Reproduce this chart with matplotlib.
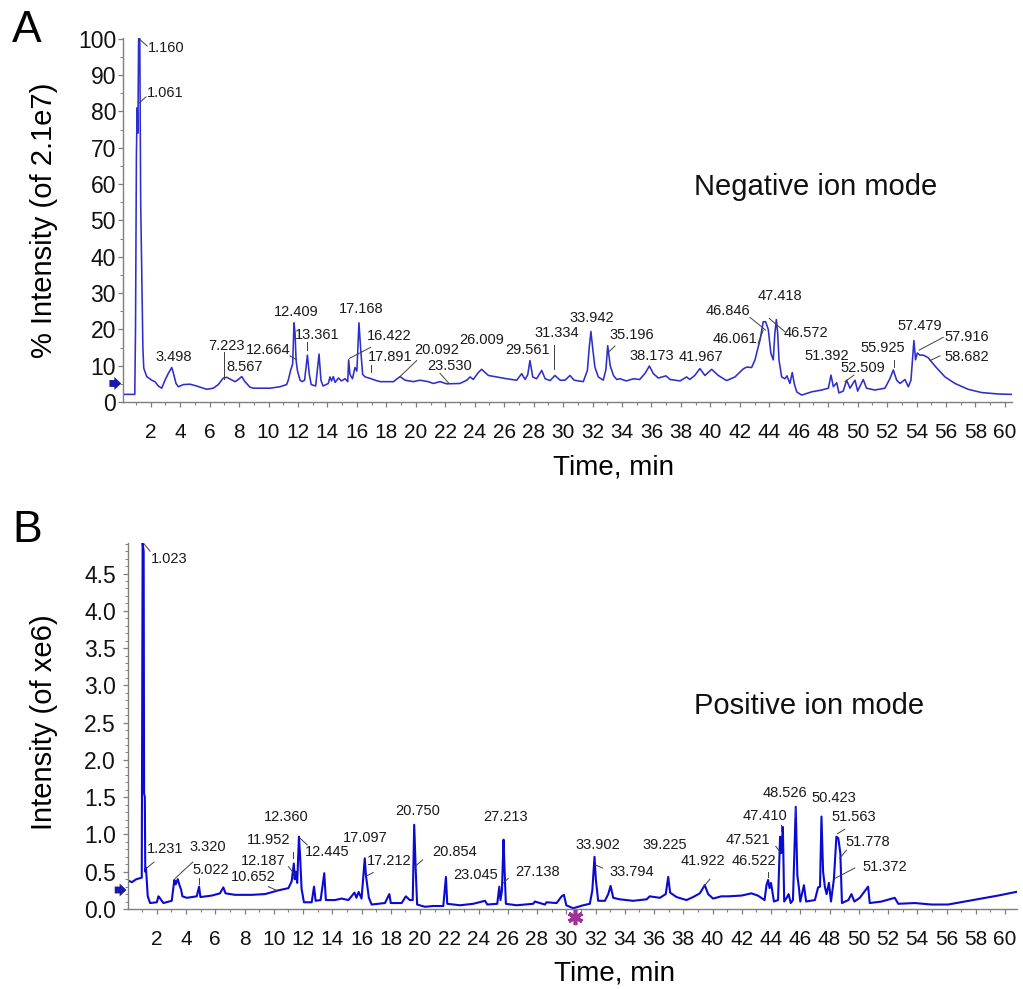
import matplotlib
matplotlib.use("Agg")
import matplotlib.pyplot as plt
from matplotlib.ticker import MultipleLocator, FixedLocator
from matplotlib.transforms import blended_transform_factory

plt.rcParams['font.family'] = ['Liberation Sans', 'DejaVu Sans']

# ---------------- data: negative ion mode (A) ----------------
neg_time = [0.12, 0.5, 0.92, 0.97, 1.03, 1.08, 1.13, 1.18, 1.26, 1.32, 1.40, 1.47, 1.53, 1.73,
            2.07, 2.29, 2.52, 2.75, 2.97, 3.20, 3.43, 3.54, 3.72, 3.88, 4.22, 4.67, 5.12, 5.80,
            6.25, 6.59, 6.93, 7.16, 7.50, 7.73, 7.95, 8.18, 8.40, 8.74, 8.97, 10.1, 10.78, 11.23,
            11.34, 11.50, 11.64, 11.73, 11.80, 11.87, 11.96, 12.14, 12.28, 12.45, 12.64, 12.77,
            12.90, 13.20, 13.43, 13.56, 13.70, 14.06, 14.17, 14.28, 14.40, 14.52, 14.75, 14.95,
            15.20, 15.38, 15.44, 15.53, 15.70, 15.87, 16.00, 16.14, 16.25, 16.39, 16.56, 16.90,
            17.24, 17.58, 18.48, 18.93, 19.27, 19.83, 20.28, 20.85, 21.19, 21.65, 22.10, 23.00,
            23.46, 23.69, 23.90, 24.24, 24.47, 24.93, 25.49, 26.17, 26.85, 27.19, 27.42, 27.60,
            27.75, 27.94, 28.20, 28.55, 28.78, 29.12, 29.45, 29.80, 30.13, 30.47, 30.75, 31.37,
            31.65, 31.78, 31.89, 32.00, 32.16, 32.39, 32.73, 32.91, 33.03, 33.20, 33.42, 33.64,
            33.86, 34.30, 34.77, 35.20, 35.55, 35.86, 36.13, 36.47, 36.99, 37.26, 37.94, 38.39,
            38.60, 38.94, 39.29, 39.63, 40.09, 40.54, 41.10, 41.67, 42.23, 42.46, 42.80, 43.03,
            43.25, 43.37, 43.59, 43.75, 43.93, 44.11, 44.27, 44.38, 44.48, 44.57, 44.66, 44.84,
            45.07, 45.20, 45.40, 45.56, 45.70, 45.86, 46.20, 46.88, 47.56, 48.01, 48.19, 48.35,
            48.58, 48.73, 49.02, 49.25, 49.48, 49.82, 50.00, 50.38, 50.60, 51.17, 51.85, 52.19,
            52.42, 52.65, 52.88, 53.21, 53.44, 53.62, 53.82, 53.93, 54.05, 54.23, 54.46, 54.79,
            55.25, 55.93, 56.61, 57.50, 58.42, 59.55, 60.45]
neg_intensity = [2.1, 2.1, 2.1, 20, 68, 81, 74, 100, 100, 55, 33, 15, 9.3, 7.0,
                 6.0, 5.6, 4.4, 3.8, 6.0, 7.9, 9.5, 8.0, 5.1, 4.2, 4.8, 4.9, 4.4, 3.5,
                 3.8, 4.8, 6.6, 6.8, 6.1, 5.6, 6.2, 7.0, 5.6, 4.1, 3.8, 3.8, 4.2, 4.8,
                 6.0, 8.7, 10.5, 21.8, 19.0, 11.6, 8.7, 6.0, 5.6, 6.0, 12.9, 7.6,
                 4.8, 4.4, 13.2, 6.0, 4.4, 5.1, 6.9, 5.8, 7.0, 5.4, 6.6, 5.8,
                 6.4, 5.6, 11.6, 7.6, 6.4, 9.5, 8.5, 21.8, 15.0, 7.6, 6.9, 6.5,
                 6.0, 5.6, 5.6, 7.0, 6.0, 5.6, 6.0, 5.6, 5.1, 5.6, 5.0, 5.1,
                 6.0, 6.9, 6.2, 8.1, 9.0, 7.3, 6.9, 6.4, 6.0, 7.8, 6.2, 7.5,
                 11.4, 6.9, 6.4, 8.7, 6.4, 5.9, 7.3, 6.0, 6.0, 7.3, 6.0, 5.6,
                 8.7, 15.2, 19.4, 15.2, 9.6, 6.9, 6.0, 9.0, 15.5, 10.0, 7.3, 6.2,
                 6.4, 5.8, 6.4, 6.2, 7.8, 9.9, 7.8, 6.6, 7.2, 6.2, 5.8, 6.9,
                 6.2, 7.3, 9.2, 7.3, 9.0, 7.3, 5.9, 6.9, 9.1, 9.6, 9.5, 11.6,
                 15.2, 17.0, 22.1, 22.1, 20.0, 13.4, 11.6, 19.0, 22.7, 19.0, 11.6, 6.9,
                 6.4, 7.2, 5.1, 8.1, 5.0, 2.8, 1.9, 2.8, 3.3, 3.8, 7.4, 4.2,
                 5.3, 2.5, 3.0, 6.0, 3.8, 6.0, 3.0, 6.2, 3.8, 3.3, 3.8, 6.4,
                 8.8, 6.0, 5.1, 6.2, 4.2, 6.0, 16.9, 11.6, 13.5, 12.9, 12.9, 12.2,
                 9.9, 6.9, 5.1, 3.5, 2.6, 2.2, 2.1]

# ---------------- data: positive ion mode (B) ----------------
pos_time = [0.05, 0.3, 0.6, 0.97, 1.03, 1.10, 1.13, 1.18, 1.21, 1.26, 1.38, 1.54, 2.00, 2.11,
            2.20, 2.45, 3.02, 3.20, 3.29, 3.43, 3.55, 3.66, 3.75, 4.05, 4.73, 4.89, 4.98, 5.75,
            6.32, 6.55, 6.70, 7.35, 8.49, 9.40, 10.31, 11.00, 11.22, 11.37, 11.43, 11.50, 11.60,
            11.72, 11.80, 11.90, 12.06, 12.59, 12.75, 12.86, 13.20, 13.45, 13.56, 14.18, 14.64,
            15.10, 15.52, 15.65, 15.80, 16.00, 16.22, 16.30, 16.50, 16.69, 17.60, 17.90, 18.00,
            18.74, 19.03, 19.30, 19.50, 19.60, 19.70, 19.80, 20.33, 20.90, 21.59, 21.77, 21.86,
            22.73, 23.64, 24.44, 24.60, 25.28, 25.42, 25.50, 25.60, 25.71, 25.78, 25.87, 26.60,
            27.74, 27.85, 28.54, 28.65, 29.34, 29.68, 29.84, 30.00, 30.47, 31.16, 31.61, 31.78,
            31.93, 32.02, 32.18, 32.64, 32.87, 33.03, 33.21, 33.66, 34.57, 35.50, 35.70, 36.40,
            36.80, 36.97, 37.10, 37.54, 38.22, 38.67, 39.13, 39.47, 39.70, 40.04, 40.60, 41.07,
            41.98, 42.66, 43.10, 43.56, 43.69, 43.80, 43.90, 44.00, 44.20, 44.48, 44.62, 44.70,
            44.81, 44.90, 45.10, 45.20, 45.35, 45.50, 45.69, 45.80, 45.90, 46.00, 46.25, 46.40,
            47.00, 47.22, 47.35, 47.45, 47.56, 47.68, 47.80, 47.96, 48.10, 48.30, 48.47, 48.60,
            48.74, 48.85, 49.29, 49.50, 49.70, 50.07, 50.64, 50.75, 51.55, 52.46, 52.70, 53.83,
            54.97, 56.10, 57.25, 58.39, 59.52, 60.78]
pos_intensity = [0.38, 0.36, 0.40, 0.42, 4.91, 4.80, 1.55, 1.50, 0.50, 0.55, 0.17, 0.08, 0.09, 0.17,
                 0.15, 0.08, 0.11, 0.39, 0.33, 0.40, 0.32, 0.26, 0.17, 0.15, 0.17, 0.30, 0.16, 0.18,
                 0.21, 0.29, 0.21, 0.19, 0.19, 0.20, 0.25, 0.28, 0.37, 0.61, 0.40, 0.50, 0.35,
                 0.97, 0.70, 0.27, 0.09, 0.09, 0.30, 0.11, 0.12, 0.48, 0.12, 0.12, 0.14,
                 0.12, 0.22, 0.15, 0.23, 0.14, 0.68, 0.45, 0.15, 0.06, 0.08, 0.20, 0.08,
                 0.08, 0.17, 0.12, 0.12, 1.13, 0.55, 0.06, 0.03, 0.04, 0.04, 0.43, 0.07,
                 0.05, 0.07, 0.11, 0.06, 0.07, 0.30, 0.12, 0.25, 0.93, 0.52, 0.07, 0.05,
                 0.07, 0.10, 0.06, 0.09, 0.08, 0.17, 0.19, 0.05, 0.01, 0.05, 0.07, 0.25,
                 0.70, 0.40, 0.11, 0.11, 0.20, 0.31, 0.15, 0.13, 0.11, 0.13, 0.17, 0.15,
                 0.20, 0.43, 0.22, 0.16, 0.12, 0.16, 0.21, 0.32, 0.20, 0.14, 0.17, 0.17,
                 0.18, 0.21, 0.18, 0.12, 0.32, 0.39, 0.28, 0.35, 0.10, 0.12, 0.97, 0.75,
                 1.10, 0.10, 0.16, 0.20, 0.08, 0.12, 1.37, 0.45, 0.30, 0.10, 0.32, 0.10,
                 0.12, 0.29, 0.30, 1.24, 0.50, 0.30, 0.20, 0.35, 0.10, 0.40, 0.97, 0.95,
                 0.75, 0.08, 0.12, 0.20, 0.10, 0.15, 0.30, 0.08, 0.10, 0.15, 0.07, 0.08,
                 0.06, 0.06, 0.10, 0.14, 0.18, 0.23]

# peak labels: (text, x, y, leader segment or None)
neg_labels = [
    ("1.160", 1.82, 97.4, (1.2, 100, 1.76, 98)),
    ("1.061", 1.75, 85.0, (1.21, 82.3, 1.68, 84)),
    ("3.498", 3.58, 12.4, None),
    ("7.223", 7.16, 15.5, (6.98, 13.8, 6.98, 6.2)),
    ("8.567", 7.16, 9.5, None),
    ("12.664", 9.99, 14.3, (11.46, 12.7, 11.91, 11.6)),
    ("12.409", 11.87, 24.7, None),
    ("13.361", 13.3, 18.4, (12.6, 16.5, 12.6, 14.3)),
    ("17.168", 16.3, 25.5, None),
    ("16.422", 18.19, 18.2, (15.49, 12.0, 16.94, 15.05)),
    ("17.891", 18.28, 12.5, (16.96, 10.2, 16.96, 8.3)),
    ("20.092", 21.44, 14.3, (18.93, 7.0, 20.06, 11.4)),
    ("23.530", 22.32, 10.0, (21.64, 7.9, 22.21, 5.3)),
    ("26.009", 24.49, 17.1, None),
    ("29.561", 27.62, 14.3, None),
    ("31.334", 29.59, 18.9, (29.4, 15.7, 29.4, 9.0)),
    ("33.942", 31.98, 23.0, None),
    ("35.196", 34.68, 18.4, (33.0, 13.4, 33.52, 15.4)),
    ("38.173", 35.99, 12.7, None),
    ("41.967", 39.36, 12.3, None),
    ("46.846", 41.22, 25.1, (42.69, 23.3, 43.75, 19.8)),
    ("46.061", 41.67, 17.3, (43.25, 16.2, 43.59, 19.8)),
    ("47.418", 44.71, 29.2, None),
    ("46.572", 46.51, 18.9, (44.0, 23.0, 45.07, 19.3)),
    ("51.392", 47.92, 12.7, None),
    ("52.509", 50.36, 9.4, (49.14, 5.6, 49.75, 7.4)),
    ("55.925", 51.72, 15.0, (52.46, 11.6, 52.46, 9.7)),
    ("57.479", 54.21, 21.0, None),
    ("57.916", 57.4, 17.8, (54.18, 14.3, 55.81, 17.8)),
    ("58.682", 57.4, 12.3, (54.91, 11.4, 55.59, 12.7)),
]
pos_labels = [
    ("1.023", 1.61, 4.69, (1.08, 4.91, 1.54, 4.80)),
    ("1.231", 2.6, 0.81, (1.31, 0.55, 1.81, 0.63)),
    ("3.320", 5.5, 0.83, (3.25, 0.41, 4.46, 0.63)),
    ("5.022", 5.71, 0.52, (4.89, 0.41, 4.89, 0.34)),
    ("12.360", 10.88, 1.23, None),
    ("11.952", 9.67, 0.92, (11.33, 0.77, 11.33, 0.68)),
    ("12.445", 13.62, 0.76, (11.79, 0.95, 12.29, 0.86)),
    ("12.187", 9.28, 0.64, (10.99, 0.57, 11.45, 0.46)),
    ("10.652", 8.6, 0.43, (9.62, 0.30, 10.2, 0.25)),
    ("17.097", 16.23, 0.95, None),
    ("17.212", 17.92, 0.64, (16.3, 0.44, 16.8, 0.49)),
    ("20.750", 19.84, 1.32, None),
    ("20.854", 22.34, 0.76, (19.65, 0.57, 20.18, 0.66)),
    ("23.045", 23.83, 0.45, None),
    ("27.213", 25.88, 1.23, None),
    ("27.138", 28.01, 0.49, (25.69, 0.35, 26.03, 0.41)),
    ("33.902", 32.13, 0.86, (32.0, 0.59, 32.48, 0.55)),
    ("33.794", 34.46, 0.49, None),
    ("39.225", 36.72, 0.86, None),
    ("41.922", 39.36, 0.64, (39.4, 0.30, 39.82, 0.40)),
    ("46.522", 42.82, 0.64, (43.8, 0.50, 43.8, 0.43)),
    ("47.521", 42.41, 0.93, (44.33, 0.84, 44.6, 0.77)),
    ("47.410", 43.57, 1.25, (44.67, 1.13, 44.67, 1.04)),
    ("48.526", 44.96, 1.55, (45.67, 1.35, 45.67, 1.24)),
    ("50.423", 48.27, 1.49, None),
    ("51.563", 49.64, 1.23, (48.54, 1.01, 49.04, 1.07)),
    ("51.778", 50.64, 0.90, (48.7, 0.68, 49.16, 0.79)),
    ("51.372", 51.76, 0.57, (48.36, 0.41, 49.73, 0.55)),
]

W, H = 1023, 989
fig = plt.figure(figsize=(W / 100, H / 100), dpi=100)

def axes_px(left, right, top, bottom):
    return fig.add_axes([left / W, 1 - bottom / H, (right - left) / W, (bottom - top) / H])

axA = axes_px(123, 1012, 38, 402)
axB = axes_px(128.3, 1016.7, 543, 909)

spine_c = '#7f7f7f'

def style(ax, ypad):
    for s in ('top', 'right'):
        ax.spines[s].set_visible(False)
    for s in ('left', 'bottom'):
        ax.spines[s].set_color(spine_c)
        ax.spines[s].set_linewidth(1.0)
    ax.xaxis.set_major_locator(FixedLocator(list(range(2, 61, 2))))
    ax.xaxis.set_minor_locator(MultipleLocator(1))
    ax.tick_params(axis='x', which='major', length=3.5, width=0.9, color=spine_c,
                   labelsize=15, pad=11.5, labelcolor='#111111')
    ax.tick_params(axis='x', which='minor', length=2.5, width=0.8, color=spine_c)
    ax.tick_params(axis='y', which='major', length=3.5, width=0.9, color=spine_c,
                   labelsize=16.5, pad=ypad, labelcolor='#111111')
    ax.tick_params(axis='y', which='minor', length=2, width=0.7, color=spine_c)

# ---------- Panel A ----------
axA.plot(neg_time, neg_intensity, color='#2e2ecc', lw=1.15)
axA.set_xlim(0.12, 60.48)
axA.set_ylim(0, 100.2)
axA.yaxis.set_major_locator(MultipleLocator(10))
axA.yaxis.set_minor_locator(MultipleLocator(5))
style(axA, 1.5)
axA.set_ylabel('% Intensity (of 2.1e7)', fontsize=21, va='center', ha='center')
axA.yaxis.set_label_coords(-0.0889, 0.5)
axA.set_xlabel('Time, min', fontsize=20, va='center', ha='center')
axA.xaxis.set_label_coords(0.552, -0.181)
axA.text(38.9, 59.2, 'Negative ion mode', fontsize=21, ha='left', va='center', color='#111111')

# ---------- Panel B ----------
axB.plot(pos_time, pos_intensity, color='#0a0ad2', lw=1.5)
axB.set_xlim(0.05, 60.8)
axB.set_ylim(0, 4.91)
axB.yaxis.set_major_locator(MultipleLocator(0.5))
axB.yaxis.set_minor_locator(MultipleLocator(0.1))
axB.yaxis.set_major_formatter(matplotlib.ticker.FormatStrFormatter('%.1f'))
style(axB, 5.5)
axB.set_ylabel('Intensity (of xe6)', fontsize=21, va='center', ha='center')
axB.yaxis.set_label_coords(-0.0949, 0.511)
axB.set_xlabel('Time, min', fontsize=20, va='center', ha='center')
axB.xaxis.set_label_coords(0.547, -0.175)
axB.text(38.7, 2.72, 'Positive ion mode', fontsize=21, ha='left', va='center', color='#111111')

# peak labels
def add_labels(ax, labels):
    for txt, x, y, leader in labels:
        ha = 'left' if txt in ('1.160', '1.061', '1.023', '8.567') else 'center'
        ax.text(x, y, txt, fontsize=10.5, ha=ha, va='center', color='#1a1a1a')
        if leader is not None:
            x1, y1, x2, y2 = leader
            ax.plot([x1, x2], [y1, y2], color='#404040', lw=0.7)

add_labels(axA, neg_labels)
add_labels(axB, pos_labels)

# block arrows at left of y axes (baseline markers)
for ax, yv in ((axA, 5.1), (axB, 0.255)):
    tr = blended_transform_factory(ax.transAxes, ax.transData)
    ax.annotate('', xy=(-0.002, yv), xycoords=tr, xytext=(-8.5, 0), textcoords='offset points',
                arrowprops=dict(arrowstyle='simple,head_length=0.45,head_width=0.85,tail_width=0.45',
                                color='#1a1aa8', lw=0, mutation_scale=11, shrinkA=0, shrinkB=0),
                annotation_clip=False)

# asterisk below axis in B
axB.plot([30.6], [-0.11], marker=(6, 2, 0), ms=11, mew=2.6, color='#a0309a', clip_on=False)

# panel letters
fig.text(12 / W, 1 - 42 / H, 'A', fontsize=32, ha='left', va='baseline')
fig.text(12 / W, 1 - 542 / H, 'B', fontsize=32, ha='left', va='baseline')

fig.savefig('out.png', dpi=100)
